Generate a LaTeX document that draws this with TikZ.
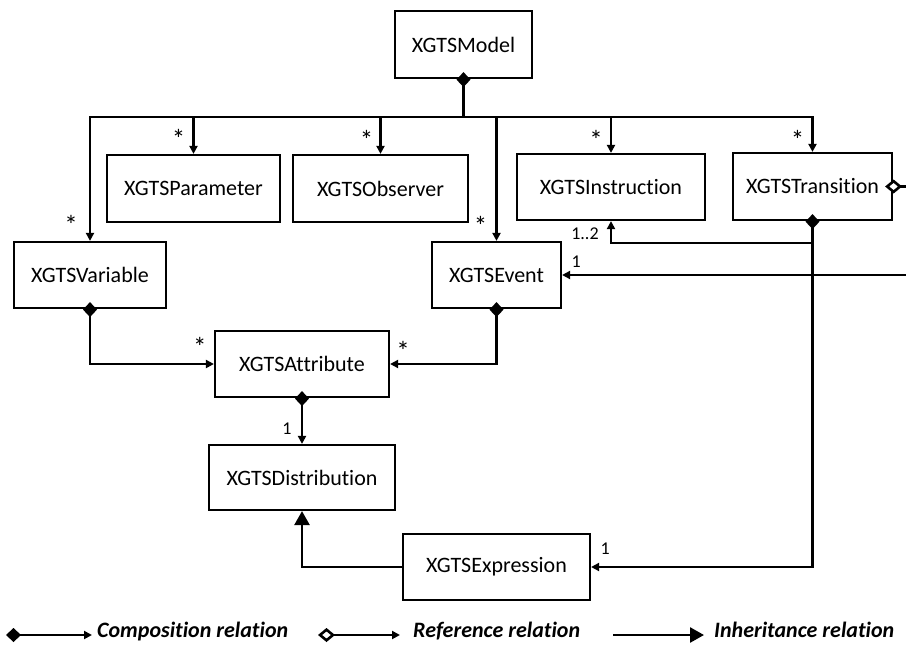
\documentclass[tikz,border=0pt]{standalone}
\usepackage{fontspec}
\setmainfont{Carlito}[Ligatures=NoCommon]
\usetikzlibrary{arrows.meta,calc}

\begin{document}
\begin{tikzpicture}[x=1pt,y=-1pt,
  classbox/.style={draw,line width=2.2pt,inner sep=0pt,font=\fontsize{22}{26}\selectfont},
  mult/.style={inner sep=0pt,font=\fontsize{18}{20}\selectfont},
  star/.style={inner sep=0pt,font=\fontsize{27}{30}\selectfont},
  conn/.style={line width=2.6pt},
  assoc/.style={conn,-{Triangle[length=8pt,width=8pt]}},
  comp/.style={conn,{Diamond[length=15pt,width=14pt]}-{Triangle[length=8pt,width=8pt]}},
  refrel/.style={conn,{Diamond[open,length=17pt,width=14pt,fill=white]}-{Triangle[length=8pt,width=8pt]}},
  inh/.style={conn,-{Triangle[length=14pt,width=15pt]}},
  legend/.style={inner sep=0pt,anchor=base west,font=\fontsize{22}{26}\selectfont\bfseries\itshape}]
  \path[use as bounding box,clip] (0,0) rectangle (906,645);
  % classes
  \node[classbox,minimum width=137pt,minimum height=67pt] (model) at (463.5,44.5) {XGTSModel};
  \node[classbox,minimum width=173pt,minimum height=67pt] (param) at (193.5,188.5) {XGTSParameter};
  \node[classbox,minimum width=175pt,minimum height=67pt] (obs) at (380.5,188.5) {XGTSObserver};
  \node[classbox,minimum width=188pt,minimum height=66pt] (instr) at (611,187) {XGTSInstruction};
  \node[classbox,minimum width=159pt,minimum height=67pt] (trans) at (812.5,186.5) {XGTSTransition};
  \node[classbox,minimum width=152pt,minimum height=66pt] (var) at (90,275) {XGTSVariable};
  \node[classbox,minimum width=129pt,minimum height=66pt] (event) at (496.5,275) {XGTSEvent};
  \node[classbox,minimum width=174pt,minimum height=66pt] (attr) at (302,364) {XGTSAttribute};
  \node[classbox,minimum width=186pt,minimum height=65pt] (dist) at (302,477.5) {XGTSDistribution};
  \node[classbox,minimum width=187pt,minimum height=66pt] (expr) at (496.5,567) {XGTSExpression};

  % model owns everything through one bus
  \coordinate (bus) at (463.5,117);
  \draw[conn,{Diamond[length=15pt,width=14pt]}-,shorten <=-7pt] (model.south) -- (bus);
  \foreach \t in {var,param,obs,event,instr,trans} \draw[assoc] (bus) -| (\t.north);
  \foreach \t/\dx/\dy in {var/-19/-16,param/-15/-15,obs/-14/-14,event/-16/-15,instr/-15/-13,trans/-15/-12}
    \node[star] at ($(\t.north)+(\dx,\dy)$) {*};

  % attributes and distribution
  \draw[comp,shorten <=-7pt] (var.south) |- (attr.west);
  \draw[comp,shorten <=-7pt] (event.south) |- (attr.east);
  \draw[comp,shorten <=-7pt] (attr.south) -- (dist.north);
  \node[star] at ($(attr.west)+(-14,-17)$) {*};
  \node[star] at ($(attr.east)+(13,-13)$) {*};
  \node[mult] at ($(dist.north)+(-15,-15)$) {1};

  % transition
  \coordinate (tsplit) at ($(trans.south)+(0,22)$);
  \draw[comp,shorten <=-7pt] (trans.south) |- (expr.east);
  \draw[assoc] (tsplit) -| (instr.south);
  \draw[refrel,shorten <=-8pt] (trans.east) -- ++(20,0) |- (event.east);
  \node[mult] at ($(instr.south)+(-26,13)$) {1..2};
  \node[mult] at ($(expr.east)+(14,-18)$) {1};
  \node[mult] at ($(event.east)+(14,-13)$) {1};

  % inheritance
  \draw[inh] (expr.west) -| (dist.south);

  % legend
  \node[legend] (lcomp) at (97,637) {Composition relation};
  \node[legend] (lref) at (413,637) {Reference relation};
  \node[legend] (linh) at (714,637) {Inheritance relation};
  \coordinate (lc) at (6,635);
  \coordinate (lr) at (318,635);
  \coordinate (li) at (613,635);
  \draw[comp,shorten >=5pt] (lc) -- (lc -| lcomp.west);
  \draw[refrel,shorten >=13pt] (lr) -- (lr -| lref.west);
  \draw[inh,shorten >=10pt] (li) -- (li -| linh.west);
\end{tikzpicture}
\end{document}
